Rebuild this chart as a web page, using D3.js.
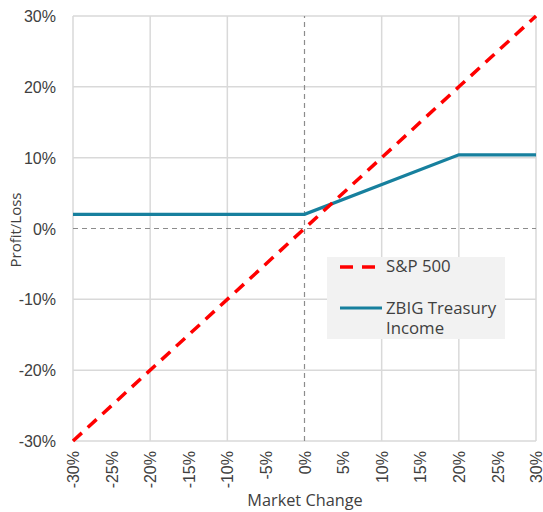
<!DOCTYPE html>
<html><head><meta charset="utf-8">
<script src="https://cdn.jsdelivr.net/npm/d3@7"></script>
<style>body{margin:0;background:#fff;}svg{display:block;font-family:"Open Sans",sans-serif;}</style>
</head><body>
<svg id="c" width="543" height="512"></svg>
<script>
const marketChange = [-30, 0, 20, 30];
const sp500 = [-30, 0, 20, 30];
const zbig = [2, 2, 10.4, 10.4];
const xTicks = [-30,-25,-20,-15,-10,-5,0,5,10,15,20,25,30];
const yTicks = [-30,-20,-10,0,10,20,30];
const xGrid = [-30,-20,-10,10,20,30];
const seriesNames = ["S&P 500", ["ZBIG Treasury","Income"]];

const svg = d3.select("#c");
const x = d3.scaleLinear().domain([-30,30]).range([73,536]);
const y = d3.scaleLinear().domain([-30,30]).range([441,16]);
const grid = "#d9d9d9", txt = "#404040";

// gridlines
svg.append("g").selectAll("line").data(yTicks.filter(d=>d!==0)).join("line")
  .attr("x1",x(-30)).attr("x2",x(30)).attr("y1",d=>y(d)).attr("y2",d=>y(d))
  .attr("stroke",grid).attr("stroke-width",1.5);
svg.append("g").selectAll("line").data(xGrid).join("line")
  .attr("y1",y(-30)).attr("y2",y(30)).attr("x1",d=>x(d)).attr("x2",d=>x(d))
  .attr("stroke",grid).attr("stroke-width",1.5);
// zero dashed
svg.append("line").attr("x1",x(-30)).attr("x2",x(30)).attr("y1",y(0)).attr("y2",y(0))
  .attr("stroke","#8c8c8c").attr("stroke-width",1.2).attr("stroke-dasharray","5,4");
svg.append("line").attr("x1",x(0)).attr("x2",x(0)).attr("y1",y(-30)).attr("y2",y(30))
  .attr("stroke","#8c8c8c").attr("stroke-width",1.2).attr("stroke-dasharray","5,4");

// axes
const yAxis = svg.append("g").attr("transform",`translate(${x(-30)-17},0)`)
  .call(d3.axisLeft(y).tickValues(yTicks).tickSize(0).tickFormat(d=>d+"%"));
yAxis.select(".domain").remove();
yAxis.selectAll("text").attr("fill",txt).style("font-size","16px").attr("dy","0.35em").attr("x",0);

const xAxis = svg.append("g").attr("transform",`translate(0,${y(-30)+10})`)
  .call(d3.axisBottom(x).tickValues(xTicks).tickSize(0).tickFormat(d=>d+"%"));
xAxis.select(".domain").remove();
xAxis.selectAll("text").attr("fill",txt).style("font-size","16px")
  .attr("transform","rotate(-90)").attr("text-anchor","end").attr("x",0).attr("y",0).attr("dy","0.35em");

svg.append("text").attr("x",305).attr("y",506).attr("text-anchor","middle")
  .attr("fill",txt).style("font-size","16.3px").text("Market Change");
svg.append("text").attr("transform","translate(21,230) rotate(-90)").attr("text-anchor","middle")
  .attr("fill",txt).style("font-size","15px").text("Profit/Loss");

// lines
const line = d3.line().x(d=>x(d[0])).y(d=>y(d[1]));
svg.append("path").datum(marketChange.map((m,i)=>[m,zbig[i]])).attr("d",line)
  .attr("fill","none").attr("stroke","#17809e").attr("stroke-width",3.2);
svg.append("path").datum(marketChange.map((m,i)=>[m,sp500[i]])).attr("d",line)
  .attr("fill","none").attr("stroke","#ff0000").attr("stroke-width",3.5).attr("stroke-dasharray","12,8");

// legend
const lg = svg.append("g");
lg.append("rect").attr("x",327).attr("y",257).attr("width",178).attr("height",82).attr("fill","#f2f2f2");
lg.append("line").attr("x1",340).attr("x2",382).attr("y1",267).attr("y2",267)
  .attr("stroke","#ff0000").attr("stroke-width",3.5).attr("stroke-dasharray","13,9");
lg.append("line").attr("x1",340).attr("x2",382).attr("y1",308).attr("y2",308)
  .attr("stroke","#17809e").attr("stroke-width",3.2);
lg.append("text").attr("x",386).attr("y",272).attr("fill",txt).style("font-size","16.8px").text(seriesNames[0]);
const t2 = lg.append("text").attr("x",386).attr("y",314).attr("fill",txt).style("font-size","16.8px");
seriesNames[1].forEach((s,i)=>t2.append("tspan").attr("x",386).attr("dy",i?20:0).text(s));
</script>
</body></html>
